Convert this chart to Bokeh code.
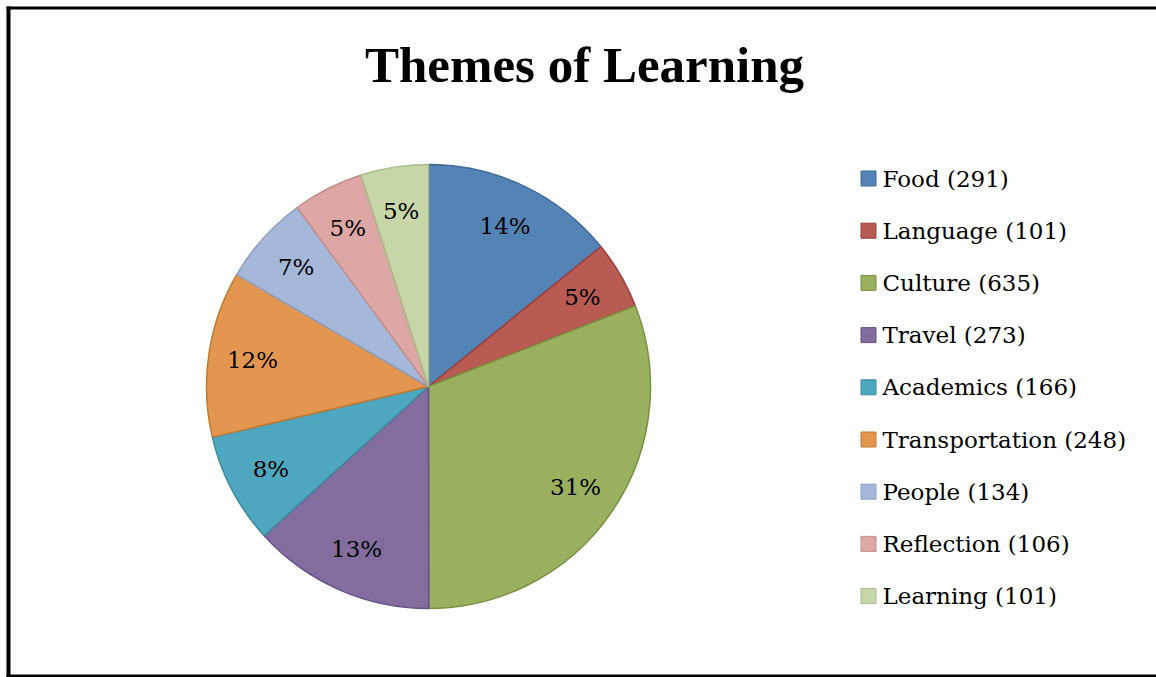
import math
from bokeh.plotting import figure
from bokeh.models import Range1d, ColumnDataSource
from bokeh.core.properties import value
from bokeh.embed import file_html
from bokeh.resources import INLINE

# ---- data ----
categories = ["Food", "Language", "Culture", "Travel", "Academics",
              "Transportation", "People", "Reflection", "Learning"]
counts = [291, 101, 635, 273, 166, 248, 134, 106, 101]
fill_colors = ["#5484B6", "#B95B53", "#9BB05E", "#836C9E", "#4FA7BF",
               "#E3964F", "#A5B8DA", "#DCA7A5", "#C6D6A9"]
line_colors = ["#3F6A99", "#9A3F3A", "#7A8F40", "#65508A", "#3A8AA0",
               "#C4782F", "#8CA0C4", "#C58C89", "#A9BD88"]
title_text = "Themes of Learning"

# ---- layout (data units == pixels) ----
W, H = 1156, 677
cx, cy, R = 428, 291, 222
label_r = 178

total = sum(counts)
starts, ends, lx, ly, labels = [], [], [], [], []
cum = 0.0
for c in counts:
    frac = c / total
    a0 = math.pi / 2 - 2 * math.pi * cum
    a1 = math.pi / 2 - 2 * math.pi * (cum + frac)
    mid = (a0 + a1) / 2
    starts.append(a0)
    ends.append(a1)
    lx.append(cx + label_r * math.cos(mid))
    ly.append(cy + label_r * math.sin(mid))
    labels.append(f"{round(frac * 100)}%")
    cum += frac

src = ColumnDataSource(dict(start=starts, end=ends, fill=fill_colors,
                            line=line_colors, lx=lx, ly=ly, lab=labels))

p = figure(width=W, height=H, output_backend="svg", toolbar_location=None,
           x_range=Range1d(0, W), y_range=Range1d(0, H), min_border=0,
           tools="")
p.axis.visible = False
p.grid.visible = False
p.outline_line_color = None
p.background_fill_color = "white"
p.border_fill_color = "white"

# frame of the chart area (left, top, bottom sides visible)
p.quad(left=[6], right=[10], bottom=[0], top=[H - 6], fill_color="black", line_color=None)
p.quad(left=[6], right=[W + 5], bottom=[H - 9], top=[H - 6], fill_color="black", line_color=None)
p.quad(left=[6], right=[W + 5], bottom=[0], top=[3], fill_color="black", line_color=None)

p.wedge(x=cx, y=cy, radius=R, start_angle="start", end_angle="end",
        direction="clock", fill_color="fill", line_color="line",
        line_width=1.5, source=src)

p.text(x="lx", y="ly", text="lab", source=src, text_align="center",
       text_baseline="middle", text_font=value("DejaVu Serif"),
       text_font_size="23px", text_color="black")

# title
p.text(x=[584], y=[613], text=[title_text], text_align="center",
       text_baseline="middle", text_font=value("Liberation Serif"),
       text_font_style="bold", text_font_size="51px", text_color="black")

# legend
row_y = [499 - 52.2 * i for i in range(len(categories))]
leg_text = [f"{c} ({n})" for c, n in zip(categories, counts)]
p.rect(x=[868] * len(categories), y=row_y, width=15, height=15,
       fill_color=fill_colors, line_color=line_colors, line_width=1)
p.text(x=[882] * len(categories), y=row_y, text=leg_text,
       text_align="left", text_baseline="middle",
       text_font=value("DejaVu Serif"), text_font_size="23px",
       text_color="black")

open("out.html", "w").write(file_html(p, INLINE))
